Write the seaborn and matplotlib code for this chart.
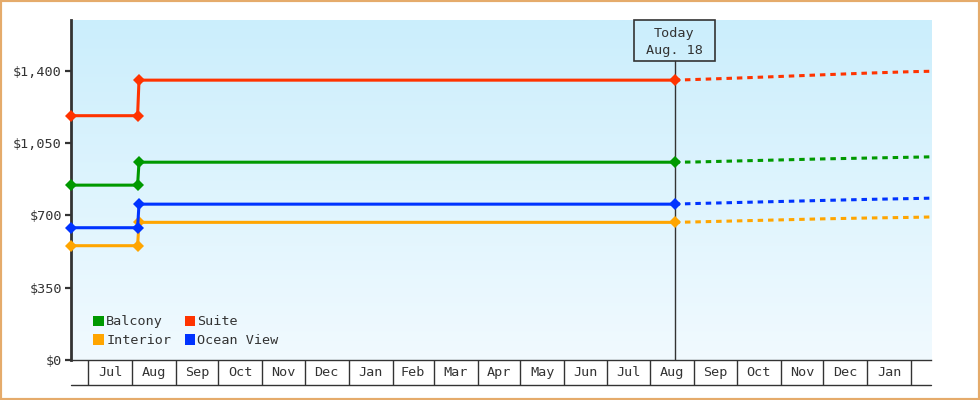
import numpy as np
import pandas as pd
import seaborn as sns
import matplotlib.pyplot as plt
import matplotlib.dates as mdates
from matplotlib.patches import Patch, Rectangle
from matplotlib.colors import LinearSegmentedColormap
from matplotlib.ticker import FuncFormatter

# cabin categories and colours (legend order, column-wise)
cabins = ['Balcony', 'Interior', 'Suite', 'Ocean View']
colors = ['#009900', '#ffa500', '#ff3300', '#0033ff']

# price history (solid line with markers)
hist_dates = ['2023-06-19', '2023-08-05', '2023-08-06', '2024-08-18']
hist_balcony = [846, 846, 957, 957]
hist_interior = [553, 553, 666, 666]
hist_suite = [1182, 1182, 1354, 1354]
hist_ocean = [640, 640, 754, 754]

# forecast (dashed)
fc_dates = ['2024-08-18', '2024-09-01', '2024-10-01', '2024-11-01',
            '2024-12-01', '2025-01-01', '2025-02-01', '2025-02-15']
fc_balcony = [957, 958, 963, 968, 973, 977, 981, 983]
fc_interior = [666, 668, 673, 678, 683, 687, 690, 692]
fc_suite = [1354, 1357, 1364, 1372, 1380, 1388, 1395, 1397]
fc_ocean = [754, 757, 762, 767, 772, 777, 781, 783]

today = '2024-08-18'
today_label = 'Today\nAug. 18'
x_range = ['2023-06-19', '2025-02-15']
month_starts = ['2023-07-01', '2023-08-01', '2023-09-01', '2023-10-01', '2023-11-01',
                '2023-12-01', '2024-01-01', '2024-02-01', '2024-03-01', '2024-04-01',
                '2024-05-01', '2024-06-01', '2024-07-01', '2024-08-01', '2024-09-01',
                '2024-10-01', '2024-11-01', '2024-12-01', '2025-01-01', '2025-02-01']
month_labels = ['Jul', 'Aug', 'Sep', 'Oct', 'Nov', 'Dec', 'Jan', 'Feb', 'Mar', 'Apr',
                'May', 'Jun', 'Jul', 'Aug', 'Sep', 'Oct', 'Nov', 'Dec', 'Jan']
y_ticks = [0, 350, 700, 1050, 1400]
y_max = 1645

hist_vals = [hist_balcony, hist_interior, hist_suite, hist_ocean]
fc_vals = [fc_balcony, fc_interior, fc_suite, fc_ocean]

hist = pd.concat([pd.DataFrame({'date': pd.to_datetime(hist_dates), 'price': v, 'cabin': c})
                  for c, v in zip(cabins, hist_vals)])
fc = pd.concat([pd.DataFrame({'date': pd.to_datetime(fc_dates), 'price': v, 'cabin': c})
                for c, v in zip(cabins, fc_vals)])

sns.set_style('white')
plt.rcParams['font.family'] = ['DejaVu Sans Mono']
ink = '#333333'
fs = 9.7

fig = plt.figure(figsize=(9.8, 4), dpi=100)
ax = fig.add_axes([71 / 980, 40 / 400, 860 / 980, 340 / 400])

# gradient background
bg = LinearSegmentedColormap.from_list('bg', ['#cbeefc', '#f1faff'])
ax.imshow(np.linspace(0, 1, 256).reshape(-1, 1), cmap=bg, aspect='auto',
          extent=[0, 1, 0, 1], transform=ax.transAxes, zorder=0)

sns.lineplot(data=fc, x='date', y='price', hue='cabin', hue_order=cabins, palette=colors,
             linewidth=2.2, linestyle=(0, (1.8, 1.6)), legend=False, ax=ax, zorder=3)
sns.lineplot(data=hist, x='date', y='price', hue='cabin', hue_order=cabins, palette=colors,
             linewidth=2.2, marker='D', markersize=6.5, markeredgewidth=0,
             legend=False, ax=ax, zorder=4, clip_on=False)

x0, x1 = pd.to_datetime(x_range)
ax.set_xlim(x0, x1)
ax.set_ylim(0, y_max)

# "today" marker box and line
t = mdates.date2num(pd.Timestamp(today))
lo, hi = mdates.date2num(x0), mdates.date2num(x1)
tf = (t - lo) / (hi - lo)
bw, bh = 81 / 860, 41 / 340
ax.axvline(pd.Timestamp(today), ymin=0, ymax=1 - bh, color=ink, lw=1, zorder=2)
ax.add_patch(Rectangle((tf - bw / 2, 1 - bh), bw, bh, transform=ax.transAxes,
                       fill=False, ec=ink, lw=1.2, zorder=5, clip_on=False))
ax.text(tf, 1 - bh / 2 - 0.004, today_label, transform=ax.transAxes, ha='center',
        va='center', fontsize=fs, color=ink, linespacing=1.4, zorder=6)

# y axis
ax.set_yticks(y_ticks)
ax.yaxis.set_major_formatter(FuncFormatter(lambda v, p: f'${v:,.0f}'))
ax.tick_params(axis='y', length=4.5, width=1.6, color=ink, labelcolor=ink,
               labelsize=fs, pad=2, left=True)

# x axis as month cells
ms = pd.to_datetime(month_starts)
mids = [a + (b - a) / 2 for a, b in zip(ms[:-1], ms[1:])]
ax.set_xticks(ms)
ax.set_xticklabels([])
ax.set_xticks(mids, minor=True)
ax.set_xticklabels(month_labels, minor=True)
ax.tick_params(axis='x', which='major', direction='out', length=18, width=1,
               color=ink, bottom=True)
ax.tick_params(axis='x', which='minor', length=0, labelsize=fs, labelcolor=ink, pad=4)
ax.plot([0, 1], [-25 / 340] * 2, transform=ax.transAxes, color=ink, lw=1,
        clip_on=False)

ax.set_xlabel('')
ax.set_ylabel('')
for s in ['top', 'right']:
    ax.spines[s].set_visible(False)
ax.spines['left'].set_color(ink)
ax.spines['left'].set_linewidth(2)
ax.spines['bottom'].set_color(ink)
ax.spines['bottom'].set_linewidth(1)

handles = [Patch(facecolor=c, edgecolor='none') for c in colors]
ax.legend(handles, cabins, ncol=2, loc='lower left', bbox_to_anchor=(0.026, 0.038),
          frameon=False, fontsize=fs, handlelength=0.8, handleheight=0.8,
          handletextpad=0.15, columnspacing=1.0, labelspacing=0.42, borderpad=0,
          borderaxespad=0, labelcolor=ink)

fig.add_artist(Rectangle((0, 0), 1, 1, transform=fig.transFigure, fill=False,
                         ec='#e5ab6b', lw=3))

fig.savefig('out.png', dpi=100)
